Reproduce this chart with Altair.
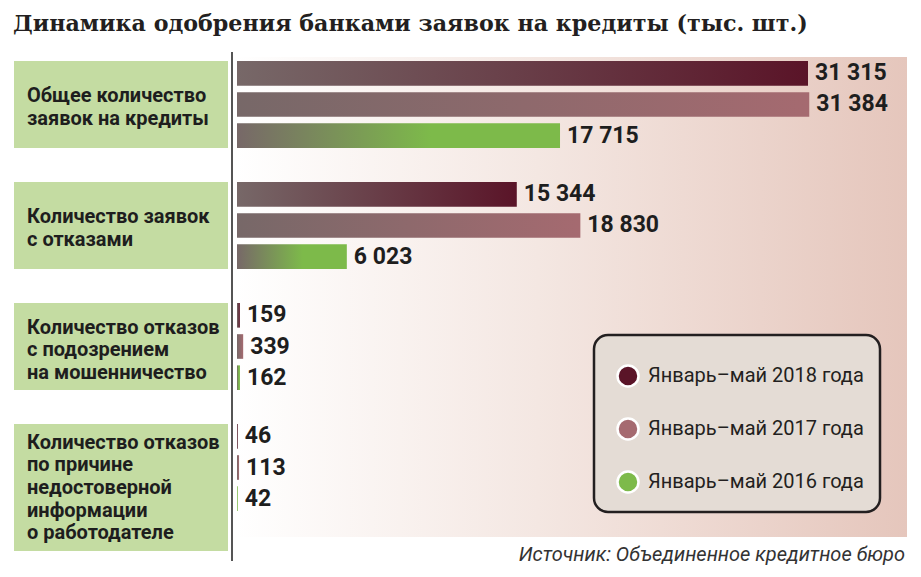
import altair as alt
import pandas as pd

# ---------------- data ----------------
categories = [
    "Общее количество заявок на кредиты",
    "Количество заявок с отказами",
    "Количество отказов с подозрением на мошенничество",
    "Количество отказов по причине недостоверной информации о работодателе",
]
category_labels = [
    "Общее количество\nзаявок на кредиты",
    "Количество заявок\nс отказами",
    "Количество отказов\nс подозрением\nна мошенничество",
    "Количество отказов\nпо причине\nнедостоверной\nинформации\nо работодателе",
]
series = ["Январь–май 2018 года", "Январь–май 2017 года", "Январь–май 2016 года"]
values_2018 = [31315, 15344, 159, 46]
values_2017 = [31384, 18830, 339, 113]
values_2016 = [17715, 6023, 162, 42]
series_colors = ["#5a1428", "#a56a70", "#7dba4a"]

title_text = "Динамика одобрения банками заявок на кредиты (тыс. шт.)"
source_text = "Источник: Объединенное кредитное бюро"

# ---------------- tables ----------------
rows = []
for s, vals in zip(series, [values_2018, values_2017, values_2016]):
    for c, v in zip(categories, vals):
        rows.append({"cat": c, "series": s, "value": v,
                     "label": f"{v:,}".replace(",", " ")})
df = pd.DataFrame(rows)
df_cat = pd.DataFrame({"cat": categories, "label": category_labels})
df_cat["nlines"] = df_cat["label"].str.count("\n") + 1
df_series = pd.DataFrame({"series": series})
one = pd.DataFrame({"k": [0]})

W, H = 905, 561
LABEL_FONT = "Roboto"

ycat = alt.Y("cat:N", axis=None,
             scale=alt.Scale(type="band", domain=categories, range=[53, 503],
                             paddingInner=0.281, paddingOuter=0))
yoff = alt.YOffset("series:N",
                   scale=alt.Scale(type="band", domain=series, paddingInner=0.21,
                                   paddingOuter=0))
xq = alt.X("value:Q", axis=None,
           scale=alt.Scale(domain=[0, 35000], range=[229, 867.2], nice=False, zero=True))

# background gradient
bg = alt.Chart(one).mark_rect(
    color=alt.Gradient(gradient="linear",
                       stops=[alt.GradientStop(color="#ffffff", offset=0),
                              alt.GradientStop(color="#f4e7e2", offset=0.45),
                              alt.GradientStop(color="#e5c6bc", offset=1)],
                       x1=0, x2=1, y1=0, y2=0)
).encode(x=alt.value(227), x2=alt.value(899), y=alt.value(49), y2=alt.value(529))

vline = alt.Chart(one).mark_rule(color="#555555", strokeWidth=2).encode(
    x=alt.value(224), y=alt.value(44), y2=alt.value(553))

BOX = "#c4dca2"
boxes = alt.Chart(df_cat).mark_rect(color=BOX).encode(
    x=alt.value(6), x2=alt.value(220), y=ycat)
box4 = alt.Chart(df_cat.iloc[3:]).mark_rect(color=BOX).encode(
    x=alt.value(6), x2=alt.value(220), y=ycat, yOffset=alt.value(40))

LH = 22.7
FS = 20
lab_kw = dict(align="left", baseline="top", lineBreak="\n", lineHeight=LH,
              font=LABEL_FONT, fontWeight="bold", fontSize=FS, color="#1e1e1e")
label_layers = []
for n, dy in [(2, -18), (3, -29), (5, -35)]:
    label_layers.append(
        alt.Chart(df_cat[df_cat["nlines"] == n]).mark_text(dy=dy, **lab_kw).encode(
            x=alt.value(19), y=ycat, text="label:N")
    )

GRAY = "#776868"
bar_layers = []
for s, col in zip(series, series_colors):
    if s == series[2]:
        stops = [alt.GradientStop(color=GRAY, offset=0),
                 alt.GradientStop(color=col, offset=0.6),
                 alt.GradientStop(color=col, offset=1)]
    else:
        stops = [alt.GradientStop(color=GRAY, offset=0),
                 alt.GradientStop(color=col, offset=1)]
    bar_layers.append(
        alt.Chart(df).transform_filter(alt.datum.series == s).mark_bar(
            color=alt.Gradient(gradient="linear", stops=stops, x1=0, x2=1, y1=0, y2=0)
        ).encode(x=xq, y=ycat, yOffset=yoff)
    )

vals = alt.Chart(df).mark_text(align="left", baseline="middle", dx=7,
                               font=LABEL_FONT, fontWeight="bold", fontSize=23,
                               color="#1e1e1e").encode(
    x=xq, y=ycat, yOffset=yoff, text="label:N")

title = alt.Chart(one).mark_text(text=title_text, align="left", baseline="alphabetic",
                                 font="DejaVu Serif", fontWeight="bold",
                                 fontSize=22.2, color="#231f20").encode(
    x=alt.value(5), y=alt.value(23))

source = alt.Chart(one).mark_text(text=source_text, align="right", baseline="middle",
                                  font=LABEL_FONT, fontStyle="italic", fontSize=20,
                                  color="#333333").encode(
    x=alt.value(897), y=alt.value(547))

leg_box = alt.Chart(one).mark_rect(fill="#e4dcd5", stroke="#231f20", strokeWidth=2.5,
                                   cornerRadius=14).encode(
    x=alt.value(586), x2=alt.value(872), y=alt.value(327), y2=alt.value(504))

yleg = alt.Y("series:N", axis=None,
             scale=alt.Scale(type="point", domain=series, range=[368, 474], padding=0))
leg_pts = alt.Chart(df_series).mark_point(filled=True, shape="circle", size=440,
                                          stroke="white", strokeWidth=2.5, opacity=1).encode(
    x=alt.value(620), y=yleg,
    color=alt.Color("series:N", legend=None,
                    scale=alt.Scale(domain=series, range=series_colors)))
leg_txt = alt.Chart(df_series).mark_text(align="left", baseline="middle", font=LABEL_FONT,
                                         fontSize=20, color="#231f20").encode(
    x=alt.value(640), y=yleg, text="series:N")

chart = alt.layer(
    bg, vline, boxes, box4, *label_layers, *bar_layers, vals,
    title, source, leg_box, leg_pts, leg_txt
).resolve_scale(y="independent", color="independent").properties(
    width=W, height=H, padding=0,
    autosize=alt.AutoSizeParams(type="none"),
    background="white",
).configure_view(stroke=None)

chart.save("out.html", embed_options={"renderer": "svg", "actions": False})
